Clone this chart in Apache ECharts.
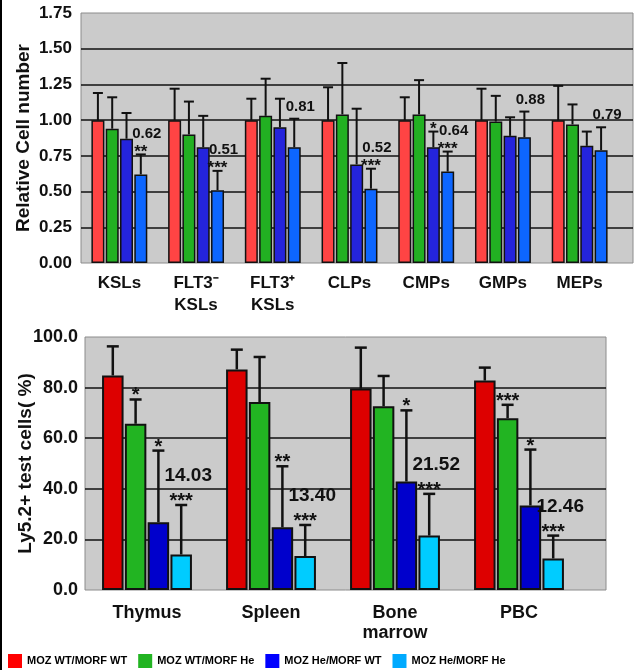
<!DOCTYPE html>
<html>
<head>
<meta charset="utf-8">
<script src="https://cdn.jsdelivr.net/npm/echarts@6/dist/echarts.min.js"></script>
<style>
  html, body { margin: 0; padding: 0; background: #fff; }
  #chart { width: 635px; height: 670px; }
</style>
</head>
<body>
<div id="chart"></div>
<script>
// 四组小鼠
const groups = ['MOZ WT/MORF WT', 'MOZ WT/MORF He', 'MOZ He/MORF WT', 'MOZ He/MORF He'];

// 上图：相对细胞数
const topCats = ['KSLs', 'FLT3⁻\nKSLs', 'FLT3⁺\nKSLs', 'CLPs', 'CMPs', 'GMPs', 'MEPs'];
const topValues = [
  [1.00, 1.00, 1.00, 1.00, 1.00, 1.00, 1.00],
  [0.94, 0.90, 1.03, 1.04, 1.04, 0.99, 0.97],
  [0.87, 0.81, 0.95, 0.69, 0.81, 0.89, 0.82],
  [0.62, 0.51, 0.81, 0.52, 0.64, 0.88, 0.79]
];
const topErrHigh = [
  [1.19, 1.22, 1.15, 1.23, 1.16, 1.22, 1.24],
  [1.16, 1.13, 1.29, 1.40, 1.28, 1.17, 1.11],
  [1.05, 1.03, 1.15, 1.08, 0.92, 1.02, 0.92],
  [0.76, 0.645, 1.01, 0.66, 0.78, 1.06, 0.95]
];
const topStars = [
  ['', '', '', '', '', '', ''],
  ['', '', '', '', '', '', ''],
  ['', '', '', '', '*', '', ''],
  ['**', '***', '', '***', '***', '', '']
];
const topNotes = ['0.62', '0.51', '0.81', '0.52', '0.64', '0.88', '0.79'];
const topTickMax = 1.75, topTickStep = 0.25;

// 下图：Ly5.2+ 细胞比例
const botCats = ['Thymus', 'Spleen', 'Bone\nmarrow', 'PBC'];
const botValues = [
  [84.8, 87.2, 79.6, 82.8],
  [65.7, 74.3, 72.6, 67.9],
  [26.8, 24.8, 42.9, 33.4],
  [14.03, 13.40, 21.52, 12.46]
];
const botErrHigh = [
  [96.3, 95.0, 95.8, 87.9],
  [75.3, 92.1, 84.6, 73.2],
  [55.1, 48.9, 71.0, 55.5],
  [33.6, 25.7, 38.0, 21.5]
];
const botStars = [
  ['', '', '', ''],
  ['*', '', '', '***'],
  ['*', '**', '*', '*'],
  ['***', '***', '***', '***']
];
const botNotes = ['14.03', '13.40', '21.52', '12.46'];
const botTickMax = 100, botTickStep = 20;

const FONT = 'Arial, "Liberation Sans", sans-serif';
const topColors = ['#ff4444', '#22b022', '#2424dc', '#0d66ff'];
const botColors = ['#dd0000', '#22b422', '#0000cc', '#00ccff'];
const legendColors = ['#ff0000', '#22b422', '#0000ff', '#00aaff'];

// 误差线 + 星号 + 数值标注
function errorSeries(axisIdx, values, errHigh, stars, notes, st) {
  const items = [];
  values[0].forEach((_, c) => {
    for (let s = 0; s < values.length; s++) items.push({ c: c, s: s });
  });
  return {
    type: 'custom',
    xAxisIndex: axisIdx,
    yAxisIndex: axisIdx,
    z: 5,
    silent: true,
    encode: { x: 0, y: 2 },
    data: items.map(d => [d.c, values[d.s][d.c], errHigh[d.s][d.c]]),
    renderItem: function (params, api) {
      const it = items[params.dataIndex];
      const top = api.coord([api.value(0), api.value(2)]);
      const low = api.coord([api.value(0), api.value(1)]);
      const x = top[0] + (it.s - 1.5) * st.step;
      const children = [
        { type: 'line', shape: { x1: x, y1: low[1], x2: x, y2: top[1] },
          style: { stroke: '#111', lineWidth: st.lw } },
        { type: 'line', shape: { x1: x - st.cap, y1: top[1], x2: x + st.cap, y2: top[1] },
          style: { stroke: '#111', lineWidth: st.lw } }
      ];
      const star = stars[it.s][it.c];
      let starY = null;
      if (star) {
        starY = top[1] - st.starLift;
        children.push({ type: 'text', x: x, y: starY + st.starFs * 0.27,
          style: { text: star, font: 'bold ' + st.starFs + 'px ' + FONT, fill: '#111',
                   align: 'center', verticalAlign: 'middle' } });
      }
      if (it.s === values.length - 1 && notes[it.c]) {
        const ny = starY !== null ? starY - st.noteGap : top[1] - st.noteLift;
        children.push({ type: 'text', x: x + st.noteDx, y: ny,
          style: { text: notes[it.c], font: 'bold ' + st.noteFs + 'px ' + FONT, fill: '#111',
                   align: 'center', verticalAlign: 'middle' } });
      }
      return { type: 'group', children: children };
    }
  };
}

function barSeries(axisIdx, values, colors, width, gap, bw) {
  return values.map((row, s) => ({
    type: 'bar',
    name: groups[s],
    xAxisIndex: axisIdx,
    yAxisIndex: axisIdx,
    data: row,
    barWidth: width,
    barGap: gap,
    itemStyle: { color: colors[s], borderColor: '#111', borderWidth: bw }
  }));
}

const splitStyle = { show: true, showMinLine: false, showMaxLine: false,
                     lineStyle: { color: '#111', width: 1.5 } };

const option = {
  animation: false,
  graphic: [{ type: 'rect', left: 0, top: 0, shape: { width: 2, height: 670 }, style: { fill: '#000' } }],
  legend: {
    left: 8, top: 654, padding: 0, itemWidth: 14, itemHeight: 14, itemGap: 11, icon: 'rect',
    selectedMode: false,
    data: groups.map((n, i) => ({ name: n, itemStyle: { color: legendColors[i], borderWidth: 0 } })),
    textStyle: { fontSize: 11, fontWeight: 'bold', fontFamily: FONT, color: '#000' }
  },
  grid: [
    { left: 81, top: 13, width: 552, height: 250, show: true, backgroundColor: '#cbcbcb', borderColor: '#8c8c8c', borderWidth: 1 },
    { left: 81, top: 13, width: 537, height: 250 },
    { left: 85, top: 337, width: 521, height: 253, show: true, backgroundColor: '#cbcbcb', borderColor: '#8c8c8c', borderWidth: 1 },
    { left: 85, top: 337, width: 496, height: 253 }
  ],
  xAxis: [
    { gridIndex: 0, type: 'value', show: false },
    { gridIndex: 1, type: 'category', data: topCats,
      axisLine: { show: false }, axisTick: { show: false },
      axisLabel: { margin: 9, fontSize: 17, lineHeight: 22, fontWeight: 'bold', fontFamily: FONT, color: '#111' } },
    { gridIndex: 2, type: 'value', show: false },
    { gridIndex: 3, type: 'category', data: botCats,
      axisLine: { show: false }, axisTick: { show: false },
      axisLabel: { margin: 13, fontSize: 18, lineHeight: 20, fontWeight: 'bold', fontFamily: FONT, color: '#111' } }
  ],
  yAxis: [
    { gridIndex: 0, type: 'value', min: 0, max: topTickMax, interval: topTickStep,
      axisLine: { show: false }, axisTick: { show: false }, splitLine: splitStyle,
      axisLabel: { margin: 9, fontSize: 17, fontWeight: 'bold', fontFamily: FONT, color: '#111',
                   formatter: v => v.toFixed(2) },
      name: 'Relative Cell number', nameLocation: 'middle', nameRotate: 90, nameGap: 48,
      nameMoveOverlap: false,
      nameTextStyle: { fontSize: 19, fontWeight: 'bold', fontFamily: FONT, color: '#111' } },
    { gridIndex: 1, type: 'value', min: 0, max: topTickMax, show: false, splitLine: { show: false } },
    { gridIndex: 2, type: 'value', min: 0, max: botTickMax, interval: botTickStep,
      axisLine: { show: false }, axisTick: { show: false }, splitLine: splitStyle,
      axisLabel: { margin: 7, fontSize: 18, fontWeight: 'bold', fontFamily: FONT, color: '#111',
                   formatter: v => v.toFixed(1) },
      name: 'Ly5.2+ test cells( %)', nameLocation: 'middle', nameRotate: 90, nameGap: 50,
      nameMoveOverlap: false,
      nameTextStyle: { fontSize: 19, fontWeight: 'bold', fontFamily: FONT, color: '#111' } },
    { gridIndex: 3, type: 'value', min: 0, max: botTickMax, show: false, splitLine: { show: false } }
  ],
  series: [].concat(
    barSeries(1, topValues, topColors, 13, '10%', 1.5),
    [errorSeries(1, topValues, topErrHigh, topStars, topNotes,
      { step: 14.3, lw: 2, cap: 5, starFs: 17, starLift: 7, noteFs: 15, noteGap: 14, noteLift: 12, noteDx: 6 })],
    barSeries(3, botValues, botColors, 21.5, '6%', 2),
    [errorSeries(3, botValues, botErrHigh, botStars, botNotes,
      { step: 22.8, lw: 2.5, cap: 6, starFs: 20, starLift: 9, noteFs: 19, noteGap: 20, noteLift: 14, noteDx: 7 })]
  )
};

const myChart = echarts.init(document.getElementById('chart'));
myChart.setOption(option);
</script>
</body>
</html>
